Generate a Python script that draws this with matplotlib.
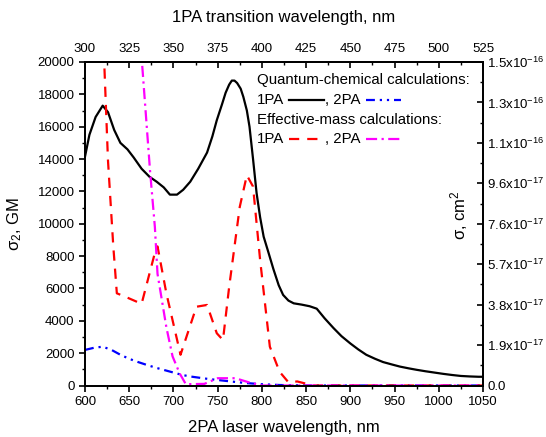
import matplotlib
matplotlib.use("Agg")
import matplotlib.pyplot as plt
from matplotlib.lines import Line2D
import numpy as np

plt.rcParams['font.family'] = ['Liberation Sans', 'DejaVu Sans']
plt.rcParams['mathtext.fontset'] = 'custom'
plt.rcParams['mathtext.rm'] = 'Liberation Sans'
plt.rcParams['mathtext.it'] = 'Liberation Sans:italic'
plt.rcParams['mathtext.default'] = 'regular'

# ---- data (2PA laser wavelength, nm ; sigma2, GM) ----
qc1_x = [600, 605, 612, 620, 626, 633, 640, 648, 655, 664, 673, 681, 689, 696, 704, 711, 719, 728,
         738, 744, 749, 755, 759, 763, 766, 769, 772, 776, 779, 783, 786, 790, 794, 798, 802, 807,
         813, 819, 824, 830, 836, 845, 854, 862, 871, 881, 890, 900, 909, 918, 928, 937, 947, 956,
         966, 975, 985, 995, 1005, 1015, 1025, 1035, 1045, 1050]
qc1_y = [14150, 15500, 16600, 17300, 16900, 15800, 15000, 14600, 14100, 13400, 12900, 12600, 12250,
         11800, 11800, 12100, 12600, 13400, 14400, 15400, 16400, 17400, 18100, 18600, 18850, 18850,
         18700, 18350, 17850, 17000, 16000, 14000, 11900, 10400, 9200, 8300, 7200, 6200, 5600, 5250,
         5080, 5000, 4900, 4750, 4150, 3550, 3050, 2600, 2230, 1900, 1650, 1450, 1300, 1170, 1060,
         970, 880, 800, 720, 650, 590, 560, 540, 540]

qc2_x = [600, 610, 620, 630, 640, 650, 660, 670, 680, 690, 700, 710, 720, 740, 760, 780, 800, 820, 850, 1050]
qc2_y = [2200, 2330, 2400, 2200, 1900, 1650, 1450, 1270, 1100, 950, 800, 650, 550, 400, 280, 160, 80, 30, 0, 0]

em1_x = [622, 626, 632, 636, 645, 664, 679, 682, 692, 708, 726, 738, 749, 756, 763, 775, 783, 790,
         798, 809, 820, 830, 840, 858, 1050]
em1_y = [19600, 13900, 8600, 5700, 5500, 5050, 8200, 8600, 5700, 1900, 4870, 4980, 3230, 2810, 6100,
         11050, 13000, 12300, 7760, 2400, 850, 200, 250, 0, 0]

em2_x = [661, 673.5, 679, 682, 692, 699, 707, 714, 735, 750, 770, 785, 800, 1050]
em2_y = [22500, 13300, 9800, 6900, 3600, 1800, 750, 80, 100, 450, 450, 200, 0, 0]

top_ticks = [300, 325, 350, 375, 400, 425, 450, 475, 500, 525]
right_tick_labels = ['0.0', '1.9x10$^{-17}$', '3.8x10$^{-17}$', '5.7x10$^{-17}$', '7.6x10$^{-17}$',
                     '9.6x10$^{-17}$', '1.1x10$^{-16}$', '1.3x10$^{-16}$', '1.5x10$^{-16}$']

# ---- figure ----
fig = plt.figure(figsize=(5.46, 4.37), dpi=100)
ax = fig.add_axes([85/546, 1-385.5/437, (483-85)/546, (385.5-62)/437])

lw = 1.6
red_dash = (4.6, 3.6)
mag_dash = (5.0, 2.0, 1.0, 2.0)
blue_dash = (4.0, 2.2, 1.0, 2.2, 1.0, 2.2)

ax.plot(qc1_x, qc1_y, color='black', lw=lw)
ax.plot(qc2_x, qc2_y, color='#0000ff', lw=lw, dashes=blue_dash)
ax.plot(em1_x, em1_y, color='#ff0000', lw=lw, dashes=red_dash)
ax.plot(em2_x, em2_y, color='#ff00ff', lw=lw, dashes=mag_dash)

ax.set_xlim(600, 1050)
ax.set_ylim(0, 20000)
ax.set_xticks(np.arange(600, 1051, 50))
ax.set_xticks(np.arange(625, 1050, 50), minor=True)
ax.set_yticks(np.arange(0, 20001, 2000))
ax.set_yticks(np.arange(1000, 20000, 2000), minor=True)

for s in ax.spines.values():
    s.set_linewidth(1.3)
ax.tick_params(axis='both', which='major', direction='out', length=4, width=1.2, labelsize=9.5)
ax.tick_params(axis='both', which='minor', direction='out', length=2.5, width=1.0)
ax.set_xlabel('2PA laser wavelength, nm', fontsize=12, labelpad=9)
ax.set_ylabel(r'$\sigma_{2}$, GM', fontsize=12, labelpad=10)

# top axis: 1PA wavelength = 2PA / 2
top = ax.secondary_xaxis('top', functions=(lambda x: x / 2.0, lambda x: x * 2.0))
top.set_xticks(top_ticks)
top.set_xticks(np.arange(312.5, 525, 25), minor=True)
top.tick_params(which='major', direction='in', length=4, width=1.2, labelsize=9.5, pad=5)
top.tick_params(which='minor', direction='in', length=2.5, width=1.0)
top.spines['top'].set_linewidth(1.3)
top.set_xlabel('1PA transition wavelength, nm', fontsize=12, labelpad=15)

# right axis: cross-section, cm^2
step = 1.915e-17
rax = ax.twinx()
rax.set_ylim(0, 8 * step)
rax.set_yticks([i * step for i in range(9)])
rax.set_yticklabels(right_tick_labels)
rax.set_yticks([(i + 0.5) * step for i in range(8)], minor=True)
rax.tick_params(which='major', direction='in', length=4, width=1.2, labelsize=9.5, pad=3)
rax.tick_params(which='minor', direction='in', length=2.5, width=1.0)
for s in rax.spines.values():
    s.set_linewidth(1.3)
fig.text(459/546, 1-215/437, r'$\sigma$, cm$^{2}$', rotation=90, fontsize=12,
         ha='center', va='center')

# ---- legend made of text and line samples ----
fs = 10.8
def tx(x, y, s):
    fig.text(x/546, 1-y/437, s, fontsize=fs, ha='left', va='center')
def seg(x0, x1, y, **kw):
    fig.add_artist(Line2D([x0/546, x1/546], [1-y/437, 1-y/437], lw=lw, **kw))

tx(257, 80, 'Quantum-chemical calculations:')
tx(257, 100, '1PA')
seg(289, 324, 100, color='black')
tx(325, 100, ', 2PA')
seg(366, 401, 100, color='#0000ff', dashes=blue_dash)
tx(257, 120, 'Effective-mass calculations:')
tx(257, 139, '1PA')
seg(289, 324, 139, color='#ff0000', dashes=red_dash)
tx(325, 139, ', 2PA')
seg(366, 401, 139, color='#ff00ff', dashes=mag_dash)

fig.savefig('out.png', dpi=100)
